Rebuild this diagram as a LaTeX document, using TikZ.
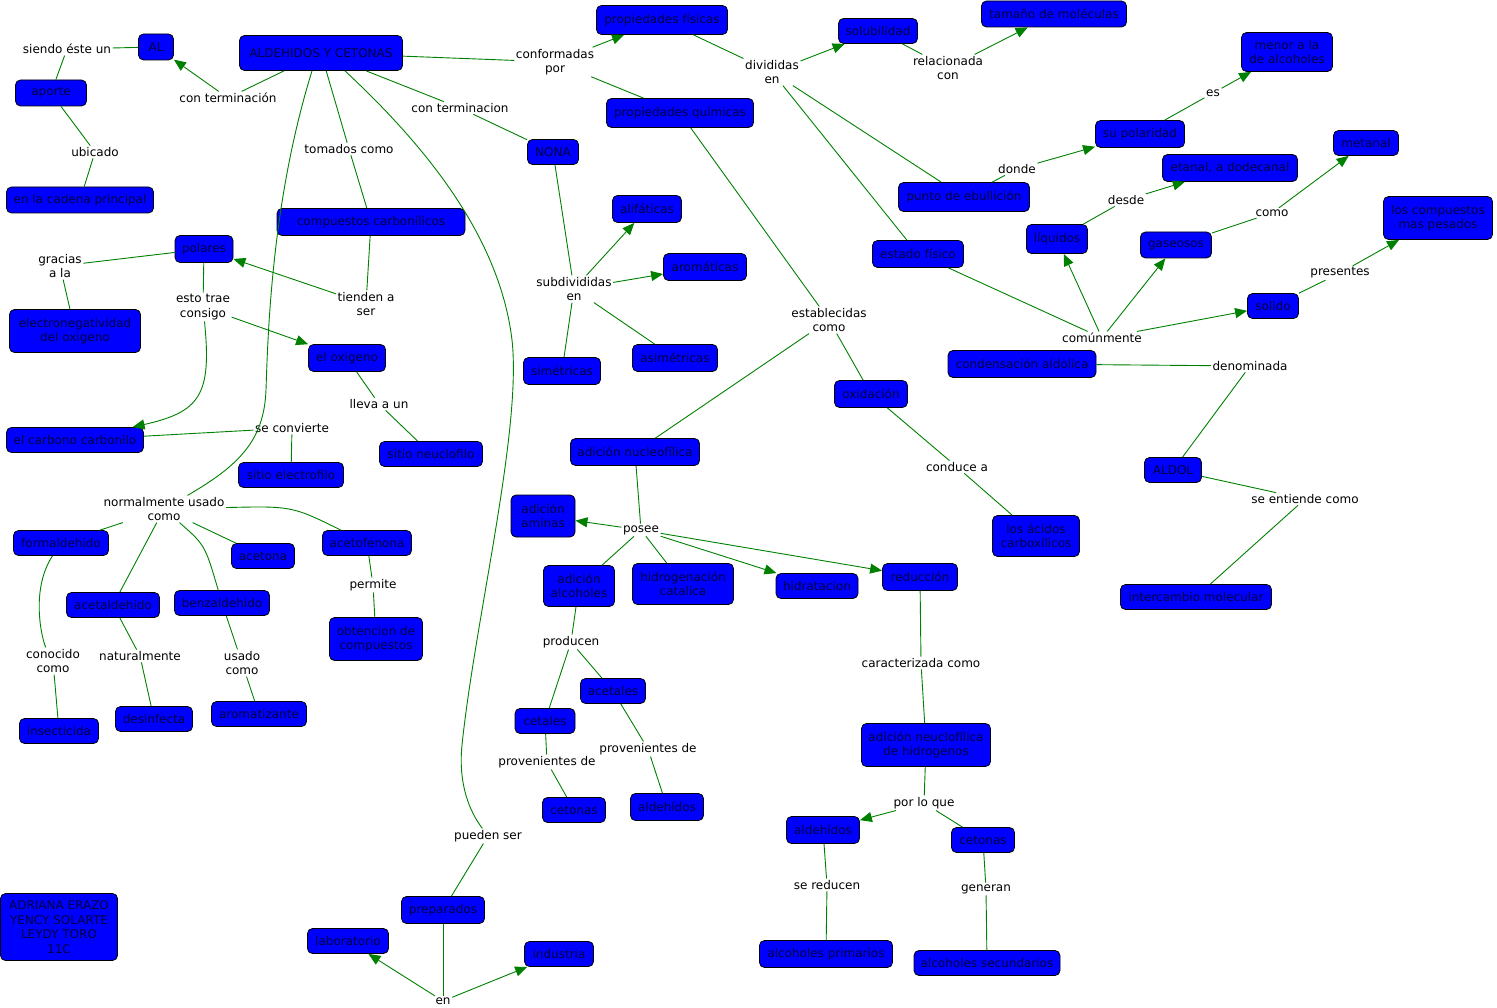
\documentclass[tikz,border=0pt]{standalone}
\usepackage{fontspec}
\setmainfont{DejaVu Sans}
\usepackage{tikz}
\usetikzlibrary{arrows.meta}
\usepackage{xcolor}
\definecolor{cmapblue}{HTML}{0000FF}
\definecolor{linkgreen}{HTML}{008000}
\definecolor{conceptink}{HTML}{000040}
\newcommand{\mapfont}{\fontsize{12}{14.5}\selectfont}
\tikzset{
  concept/.style={draw=black, line width=0.8pt, fill=cmapblue, rounded corners=5pt, text=conceptink, align=center, font=\mapfont, inner xsep=2pt, inner ysep=2pt, minimum height=26pt},
  linkword/.style={font=\mapfont, align=center, inner sep=1.5pt, text=black},
  link/.style={draw=linkgreen, line width=0.9pt},
  arrow/.style={link, -{Triangle[length=12pt,width=10pt]}}
}

\begin{document}
\begin{tikzpicture}[x=1pt, y=-1pt]
  \useasboundingbox (0,0) rectangle (1497,1008);
  % conceptos
  \node[concept, minimum width=35pt] (al) at (156,47) {AL};
  \node[concept, minimum width=163pt, minimum height=35pt] (ac) at (321,53) {ALDEHIDOS Y CETONAS};
  \node[concept, minimum width=71pt] (aporte) at (51,93) {aporte};
  \node[concept, minimum width=147pt] (cadena) at (80,200) {en la cadena principal};
  \node[concept, minimum width=131pt, minimum height=29pt] (pfis) at (662,20) {propiedades físicas};
  \node[concept, minimum width=147pt, minimum height=29pt] (pquim) at (680,113) {propiedades químicas};
  \node[concept, minimum width=51pt, minimum height=25pt] (nona) at (553,152) {NONA};
  \node[concept, minimum width=79pt, minimum height=25pt] (solub) at (878,31) {solubilidad};
  \node[concept, minimum width=145pt] (tamano) at (1054,14) {tamaño de moléculas};
  \node[concept, minimum width=91pt, minimum height=39pt] (menor) at (1287,52) {menor a la\\de alcoholes};
  \node[concept, minimum width=89pt, minimum height=27pt] (polaridad) at (1140,134) {su polaridad};
  \node[concept, minimum width=131pt, minimum height=29pt] (ebull) at (964,197) {punto de ebullición};
  \node[concept, minimum width=65pt, minimum height=25pt] (metanal) at (1366,143) {metanal};
  \node[concept, minimum width=135pt, minimum height=27pt] (etanal) at (1230,168) {etanal, a dodecanal};
  \node[concept, minimum width=109pt, minimum height=43pt] (pesados) at (1438,218) {los compuestos\\mas pesados};
  \node[concept, minimum width=61pt, minimum height=29pt] (liquidos) at (1057,239) {líquidos};
  \node[concept, minimum width=71pt] (gaseosos) at (1176,245) {gaseosos};
  \node[concept, minimum width=91pt, minimum height=27pt] (estado) at (918,254) {estado físico};
  \node[concept, minimum width=188pt, minimum height=27pt] (carbonil) at (371,222) {compuestos carbonílicos};
  \node[concept, minimum width=58pt, minimum height=27pt] (polares) at (204,249) {polares};
  \node[concept, minimum width=131pt, minimum height=43pt] (electroneg) at (75,331) {electronegatividad\\del oxigeno};
  \node[concept, minimum width=77pt, minimum height=27pt] (oxigeno) at (347,358) {el oxigeno};
  \node[concept, minimum width=137pt, minimum height=25pt] (carbono) at (75,440) {el carbono carbonilo};
  \node[concept, minimum width=105pt, minimum height=25pt] (electrofilo) at (291,475) {sitio electrofilo};
  \node[concept, minimum width=103pt, minimum height=25pt] (nucleofilo) at (431,454) {sitio neuclofilo};
  \node[concept, minimum width=69pt, minimum height=27pt] (alifaticas) at (647,209) {alifáticas};
  \node[concept, minimum width=83pt, minimum height=27pt] (aromaticas) at (705,267) {aromáticas};
  \node[concept, minimum width=77pt, minimum height=27pt] (simetricas) at (562,371) {simétricas};
  \node[concept, minimum width=85pt, minimum height=27pt] (asimetricas) at (675,358) {asimétricas};
  \node[concept, minimum width=51pt, minimum height=25pt] (solido) at (1273,306) {solido};
  \node[concept, minimum width=148pt, minimum height=27pt] (condens) at (1022,364) {condensación aldolica};
  \node[concept, minimum width=73pt, minimum height=27pt] (oxidacion) at (871,394) {oxidación};
  \node[concept, minimum width=129pt, minimum height=27pt] (adnucleo) at (635,452) {adición nucleofílica};
  \node[concept, minimum width=57pt, minimum height=25pt] (aldol) at (1173,470) {ALDOL};
  \node[concept, minimum width=64pt, minimum height=42pt] (aminas) at (543,516) {adición\\aminas};
  \node[concept, minimum width=71pt, minimum height=41pt] (adalcoh) at (579,586) {adición\\alcoholes};
  \node[concept, minimum width=101pt, minimum height=41pt] (hidrogen) at (683,584) {hidrogenación\\catalica};
  \node[concept, minimum width=82pt, minimum height=25pt] (hidrat) at (817,586) {hidratacion};
  \node[concept, minimum width=75pt, minimum height=27pt] (reduccion) at (920,577) {reducción};
  \node[concept, minimum width=87pt, minimum height=41pt] (acidos) at (1036,536) {los ácidos\\carboxílicos};
  \node[concept, minimum width=151pt, minimum height=25pt] (intercambio) at (1196,597) {intercambio molecular};
  \node[concept, minimum width=95pt, minimum height=25pt] (formal) at (61,543) {formaldehido};
  \node[concept, minimum width=63pt, minimum height=25pt] (acetona) at (263,556) {acetona};
  \node[concept, minimum width=89pt, minimum height=25pt] (acetofen) at (367,543) {acetofenona};
  \node[concept, minimum width=93pt, minimum height=25pt] (acetald) at (113,605) {acetaldehido};
  \node[concept, minimum width=95pt, minimum height=25pt] (benzald) at (222,603) {benzaldehido};
  \node[concept, minimum width=93pt, minimum height=43pt] (obtencion) at (376,639) {obtencion de\\compuestos};
  \node[concept, minimum width=79pt, minimum height=25pt] (insect) at (59,731) {insecticida};
  \node[concept, minimum width=77pt, minimum height=25pt] (desinf) at (154,719) {desinfecta};
  \node[concept, minimum width=95pt, minimum height=25pt] (aromatiz) at (259,714) {aromatizante};
  \node[concept, minimum width=65pt, minimum height=25pt] (acetales) at (613,691) {acetales};
  \node[concept, minimum width=60pt, minimum height=25pt] (cetales) at (545,721) {cetales};
  \node[concept, minimum width=129pt, minimum height=43pt] (adhidrog) at (926,745) {adición neuclofílica\\de hidrogenos};
  \node[concept, minimum width=63pt, minimum height=25pt] (cetonasL) at (574,810) {cetonas};
  \node[concept, minimum width=73pt, minimum height=27pt] (aldehL) at (667,807) {aldehídos};
  \node[concept, minimum width=73pt, minimum height=27pt] (aldehR) at (823,830) {aldehídos};
  \node[concept, minimum width=63pt, minimum height=25pt] (cetonasR) at (983,840) {cetonas};
  \node[concept, minimum width=133pt, minimum height=27pt] (primarios) at (826,954) {alcoholes primarios};
  \node[concept, minimum width=146pt, minimum height=25pt] (secund) at (987,963) {alcoholes secundarios};
  \node[concept, minimum width=117pt, minimum height=67pt, inner xsep=1pt] (autores) at (59,927) {ADRIANA ERAZO\\YENCY SOLARTE\\LEYDY TORO\\11C};
  \node[concept, minimum width=83pt, minimum height=27pt] (preparados) at (443,910) {preparados};
  \node[concept, minimum width=81pt, minimum height=25pt] (laboratorio) at (348,941) {laboratorio};
  \node[concept, minimum width=69pt, minimum height=25pt] (industria) at (559,954) {industria};
  % frases de enlace
  \node[linkword] (siendo) at (67,49) {siendo éste un};
  \node[linkword] (contermA) at (228,98) {con terminación};
  \node[linkword] (ubicado) at (95,152) {ubicado};
  \node[linkword] (tomados) at (349,149) {tomados como};
  \node[linkword] (contermB) at (460,108) {con terminacion};
  \node[linkword] (conform) at (555,62) {conformadas\\por};
  \node[linkword] (divid) at (772,72) {divididas\\en};
  \node[linkword] (relac) at (948,68) {relacionada\\con};
  \node[linkword] (es) at (1213,93) {es};
  \node[linkword] (donde) at (1017,169) {donde};
  \node[linkword] (desde) at (1126,200) {desde};
  \node[linkword] (como) at (1272,213) {como};
  \node[linkword] (presentes) at (1340,273) {presentes};
  \node[linkword] (comun) at (1102,338) {comúnmente};
  \node[linkword] (denomin) at (1250,366) {denominada};
  \node[linkword] (entiende) at (1305,499) {se entiende como};
  \node[linkword] (gracias) at (60,266) {gracias\\a la};
  \node[linkword] (trae) at (203,307) {esto trae\\consigo};
  \node[linkword] (tienden) at (366,304) {tienden a\\ser};
  \node[linkword] (lleva) at (379,404) {lleva a un};
  \node[linkword] (convierte) at (292,428) {se convierte};
  \node[linkword] (subdiv) at (574,289) {subdivididas\\en};
  \node[linkword] (establ) at (829,320) {establecidas\\como};
  \node[linkword] (conduce) at (957,467) {conduce a};
  \node[linkword] (normal) at (164,509) {normalmente usado\\como};
  \node[linkword] (posee) at (641,530) {posee};
  \node[linkword] (permite) at (373,585) {permite};
  \node[linkword] (conocido) at (53,661) {conocido\\como};
  \node[linkword] (natural) at (140,656) {naturalmente};
  \node[linkword] (usado) at (242,663) {usado\\como};
  \node[linkword] (producen) at (571,642) {producen};
  \node[linkword] (caract) at (921,663) {caracterizada como};
  \node[linkword] (provA) at (648,749) {provenientes de};
  \node[linkword] (provC) at (547,762) {provenientes de};
  \node[linkword] (porloque) at (924,803) {por lo que};
  \node[linkword] (reducen) at (827,885) {se reducen};
  \node[linkword] (generan) at (986,889) {generan};
  \node[linkword] (pueden) at (488,836) {pueden ser};
  \node[linkword] (en) at (443,1001) {en};
  % conexiones
  \draw[link] (ac) -- (contermA);
  \draw[arrow] (contermA) -- (al);
  \draw[link] (al) -- (siendo);
  \draw[link] (siendo) -- (aporte);
  \draw[link] (aporte) -- (ubicado);
  \draw[link] (ubicado) -- (cadena);
  \draw[link] (ac) -- (conform);
  \draw[arrow] (conform) -- (pfis);
  \draw[link] (conform) -- (pquim);
  \draw[link] (ac) -- (contermB);
  \draw[link] (contermB) -- (nona);
  \draw[link] (ac) -- (tomados);
  \draw[link] (tomados) -- (carbonil);
  \draw[link] (carbonil) -- (tienden);
  \draw[arrow] (tienden) -- (polares);
  \draw[link] (polares) -- (gracias);
  \draw[link] (gracias) -- (electroneg);
  \draw[link] (polares) -- (trae);
  \draw[arrow] (trae) -- (oxigeno);
  \draw[arrow] (trae) .. controls (212,395) and (200,412) .. (carbono);
  \draw[link] (oxigeno) -- (lleva);
  \draw[link] (lleva) -- (nucleofilo);
  \draw[link] (carbono) -- (convierte);
  \draw[link] (convierte) -- (electrofilo);
  \draw[link] ([xshift=-9pt]ac.south) .. controls (272,200) and (268,330) .. (266,390) .. controls (264,440) and (240,465) .. (normal);
  \draw[link] ([xshift=24pt]ac.south) .. controls (430,150) and (500,240) .. (512,340) .. controls (522,430) and (475,620) .. (462,745) .. controls (458,785) and (470,812) .. (pueden);
  \draw[link] (normal) -- (formal);
  \draw[link] (normal) -- (acetald);
  \draw[link] (normal) .. controls (205,545) .. (benzald);
  \draw[link] (normal) -- (acetona);
  \draw[link] (normal) .. controls (292,506) .. (acetofen);
  \draw[link] (formal) .. controls (30,590) and (42,640) .. (conocido);
  \draw[link] (conocido) -- (insect);
  \draw[link] (acetald) -- (natural);
  \draw[link] (natural) -- (desinf);
  \draw[link] (benzald) -- (usado);
  \draw[link] (usado) -- (aromatiz);
  \draw[link] (acetofen) -- (permite);
  \draw[link] (permite) -- (obtencion);
  \draw[link] (nona) -- (subdiv);
  \draw[arrow] (subdiv) -- (alifaticas);
  \draw[arrow] (subdiv) -- (aromaticas);
  \draw[link] (subdiv) -- (simetricas);
  \draw[link] (subdiv) -- (asimetricas);
  \draw[link] (pfis) -- (divid);
  \draw[arrow] (divid) -- (solub);
  \draw[link] (divid) -- (ebull);
  \draw[link] (divid) -- (estado);
  \draw[link] (solub) -- (relac);
  \draw[arrow] (relac) -- (tamano);
  \draw[link] (ebull) -- (donde);
  \draw[arrow] (donde) -- (polaridad);
  \draw[link] (polaridad) -- (es);
  \draw[arrow] (es) -- (menor);
  \draw[link] (estado) -- (comun);
  \draw[arrow] (comun) -- (liquidos);
  \draw[arrow] (comun) -- (gaseosos);
  \draw[arrow] (comun) -- (solido);
  \draw[link] (liquidos) -- (desde);
  \draw[arrow] (desde) -- (etanal);
  \draw[link] (gaseosos) -- (como);
  \draw[arrow] (como) -- (metanal);
  \draw[link] (solido) -- (presentes);
  \draw[arrow] (presentes) -- (pesados);
  \draw[link] (condens) -- (denomin);
  \draw[link] (denomin) -- (aldol);
  \draw[link] (aldol) -- (entiende);
  \draw[link] (entiende) -- (intercambio);
  \draw[link] (pquim) -- (establ);
  \draw[link] (establ) -- (oxidacion);
  \draw[link] (establ) -- (adnucleo);
  \draw[link] (oxidacion) -- (conduce);
  \draw[link] (conduce) -- (acidos);
  \draw[link] (adnucleo) -- (posee);
  \draw[arrow] (posee) -- (aminas);
  \draw[link] (posee) -- (adalcoh);
  \draw[link] (posee) -- (hidrogen);
  \draw[arrow] (posee) -- (hidrat);
  \draw[arrow] (posee) -- (reduccion);
  \draw[link] (adalcoh) -- (producen);
  \draw[link] (producen) -- (cetales);
  \draw[link] (producen) -- (acetales);
  \draw[link] (acetales) -- (provA);
  \draw[link] (provA) -- (aldehL);
  \draw[link] (cetales) -- (provC);
  \draw[link] (provC) -- (cetonasL);
  \draw[link] (reduccion) -- (caract);
  \draw[link] (caract) -- (adhidrog);
  \draw[link] (adhidrog) -- (porloque);
  \draw[arrow] (porloque) -- (aldehR);
  \draw[link] (porloque) -- (cetonasR);
  \draw[link] (aldehR) -- (reducen);
  \draw[link] (reducen) -- (primarios);
  \draw[link] (cetonasR) -- (generan);
  \draw[link] (generan) -- (secund);
  \draw[link] (pueden) -- (preparados);
  \draw[link] (preparados) -- (en);
  \draw[arrow] (en) -- (laboratorio);
  \draw[arrow] (en) -- (industria);
\end{tikzpicture}
\end{document}
